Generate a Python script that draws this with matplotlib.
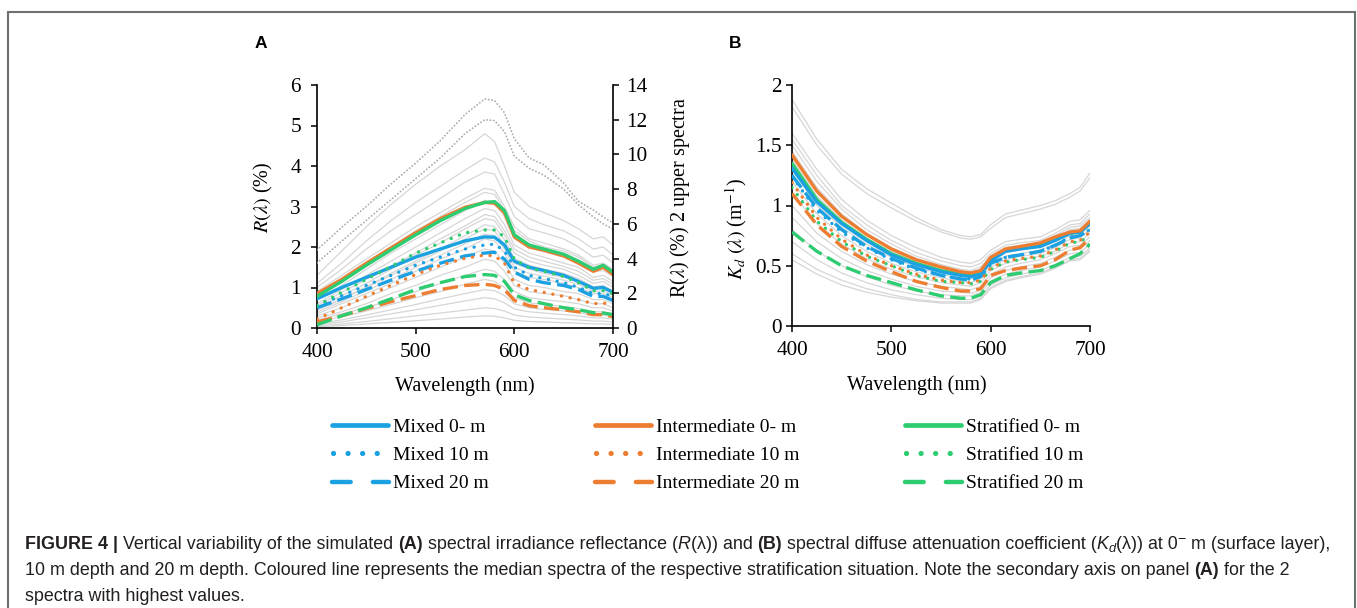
import matplotlib
matplotlib.use('Agg')
import matplotlib.pyplot as plt
from matplotlib.lines import Line2D
from matplotlib.patches import Rectangle

plt.rcParams['mathtext.fontset'] = 'stix'
plt.rcParams['font.family'] = ['Liberation Serif', 'DejaVu Serif']

# ---------------- data ----------------
wavelength = [400, 425, 450, 475, 500, 525, 550, 570, 580, 590, 600, 615, 630, 650, 665, 680, 690, 700]

# Panel A: irradiance reflectance R (%), median spectra
R_mixed_0 = [0.72, 1.0, 1.25, 1.5, 1.75, 1.95, 2.15, 2.25, 2.24, 2.05, 1.65, 1.5, 1.42, 1.3, 1.15, 0.98, 1.0, 0.88]
R_mixed_10 = [0.55, 0.8, 1.05, 1.3, 1.55, 1.75, 1.95, 2.05, 2.07, 1.9, 1.5, 1.3, 1.22, 1.12, 1.0, 0.85, 0.85, 0.78]
R_mixed_20 = [0.5, 0.72, 0.95, 1.18, 1.4, 1.6, 1.78, 1.85, 1.87, 1.7, 1.38, 1.2, 1.12, 1.05, 0.95, 0.78, 0.78, 0.68]
R_inter_0 = [0.85, 1.2, 1.6, 1.98, 2.35, 2.7, 2.98, 3.1, 3.08, 2.85, 2.25, 2.0, 1.92, 1.78, 1.6, 1.4, 1.5, 1.32]
R_inter_10 = [0.22, 0.5, 0.78, 1.05, 1.32, 1.55, 1.72, 1.8, 1.78, 1.6, 1.1, 0.95, 0.88, 0.78, 0.7, 0.6, 0.62, 0.55]
R_inter_20 = [0.15, 0.3, 0.48, 0.65, 0.8, 0.95, 1.05, 1.08, 1.05, 0.95, 0.68, 0.55, 0.5, 0.45, 0.4, 0.33, 0.33, 0.28]
R_strat_0 = [0.78, 1.15, 1.55, 1.93, 2.3, 2.65, 2.95, 3.1, 3.12, 2.9, 2.3, 2.05, 1.95, 1.82, 1.65, 1.45, 1.55, 1.38]
R_strat_10 = [0.55, 0.88, 1.2, 1.52, 1.85, 2.1, 2.35, 2.42, 2.42, 2.25, 1.7, 1.48, 1.4, 1.27, 1.12, 0.92, 0.92, 0.85]
R_strat_20 = [0.08, 0.3, 0.5, 0.72, 0.95, 1.12, 1.27, 1.32, 1.3, 1.15, 0.82, 0.68, 0.6, 0.5, 0.45, 0.38, 0.37, 0.33]

# Panel A: 2 upper spectra (secondary axis, %)
R_upper_1 = [4.5, 5.8, 7.0, 8.3, 9.5, 10.8, 12.3, 13.2, 13.1, 12.4, 10.9, 9.8, 9.4, 8.35, 7.3, 6.8, 6.4, 6.05]
R_upper_2 = [3.75, 5.0, 6.2, 7.4, 8.6, 9.8, 11.2, 12.0, 11.95, 11.3, 9.9, 9.2, 8.8, 8.0, 7.1, 6.4, 6.0, 5.7]

# Panel A: all other simulated spectra (grey)
R_grey = [
    [1.3, 1.9, 2.5, 3.05, 3.55, 4.0, 4.4, 4.8, 4.6, 4.0, 3.35, 3.0, 2.85, 2.65, 2.45, 2.2, 2.25, 2.05],
    [1.1, 1.6, 2.15, 2.65, 3.1, 3.5, 3.9, 4.2, 4.1, 3.6, 3.0, 2.7, 2.55, 2.4, 2.2, 1.95, 2.0, 1.8],
    [1.0, 1.45, 1.95, 2.4, 2.8, 3.2, 3.6, 3.85, 3.8, 3.3, 2.75, 2.45, 2.35, 2.2, 2.0, 1.75, 1.8, 1.6],
    [0.9, 1.3, 1.7, 2.1, 2.5, 2.85, 3.2, 3.45, 3.4, 3.0, 2.5, 2.2, 2.1, 1.95, 1.8, 1.55, 1.6, 1.45],
    [0.8, 1.2, 1.6, 2.0, 2.4, 2.75, 3.1, 3.35, 3.3, 2.9, 2.4, 2.15, 2.0, 1.9, 1.75, 1.5, 1.55, 1.4],
    [0.7, 1.05, 1.45, 1.85, 2.2, 2.55, 2.9, 3.15, 3.1, 2.75, 2.2, 1.98, 1.88, 1.75, 1.6, 1.38, 1.42, 1.28],
    [0.6, 0.95, 1.3, 1.65, 2.0, 2.35, 2.7, 2.95, 2.9, 2.55, 2.05, 1.85, 1.75, 1.6, 1.5, 1.25, 1.3, 1.15],
    [0.55, 0.88, 1.2, 1.52, 1.85, 2.2, 2.52, 2.8, 2.75, 2.4, 1.95, 1.75, 1.65, 1.52, 1.4, 1.18, 1.22, 1.08],
    [0.5, 0.8, 1.1, 1.45, 1.8, 2.1, 2.45, 2.7, 2.65, 2.3, 1.85, 1.65, 1.55, 1.45, 1.3, 1.1, 1.15, 1.0],
    [0.45, 0.72, 1.02, 1.35, 1.65, 1.95, 2.28, 2.55, 2.5, 2.18, 1.72, 1.55, 1.45, 1.35, 1.22, 1.02, 1.05, 0.92],
    [0.45, 0.7, 1.0, 1.3, 1.6, 1.9, 2.2, 2.45, 2.4, 2.05, 1.6, 1.45, 1.35, 1.25, 1.15, 0.95, 1.0, 0.85],
    [0.4, 0.65, 0.92, 1.2, 1.5, 1.8, 2.08, 2.32, 2.28, 1.95, 1.5, 1.35, 1.28, 1.18, 1.08, 0.9, 0.92, 0.8],
    [0.35, 0.6, 0.85, 1.1, 1.4, 1.7, 1.95, 2.2, 2.15, 1.85, 1.4, 1.25, 1.2, 1.1, 1.0, 0.85, 0.85, 0.75],
    [0.3, 0.5, 0.75, 1.0, 1.25, 1.5, 1.75, 1.95, 1.9, 1.6, 1.2, 1.05, 1.0, 0.9, 0.85, 0.7, 0.7, 0.6],
    [0.25, 0.4, 0.6, 0.85, 1.05, 1.3, 1.5, 1.7, 1.65, 1.4, 1.05, 0.9, 0.85, 0.8, 0.7, 0.6, 0.6, 0.5],
    [0.2, 0.35, 0.5, 0.7, 0.9, 1.1, 1.3, 1.45, 1.4, 1.2, 0.9, 0.75, 0.7, 0.65, 0.6, 0.5, 0.5, 0.42],
    [0.15, 0.28, 0.42, 0.58, 0.75, 0.9, 1.08, 1.2, 1.15, 1.0, 0.75, 0.62, 0.58, 0.53, 0.48, 0.4, 0.4, 0.35],
    [0.1, 0.2, 0.32, 0.45, 0.58, 0.72, 0.85, 0.95, 0.92, 0.8, 0.6, 0.5, 0.46, 0.42, 0.38, 0.32, 0.32, 0.28],
    [0.08, 0.15, 0.25, 0.35, 0.45, 0.56, 0.67, 0.75, 0.72, 0.62, 0.47, 0.4, 0.37, 0.33, 0.3, 0.25, 0.25, 0.22],
    [0.05, 0.1, 0.16, 0.23, 0.3, 0.37, 0.44, 0.5, 0.48, 0.42, 0.32, 0.27, 0.25, 0.22, 0.2, 0.17, 0.17, 0.15],
    [0.03, 0.06, 0.1, 0.14, 0.18, 0.22, 0.27, 0.3, 0.29, 0.25, 0.19, 0.16, 0.15, 0.13, 0.12, 0.1, 0.1, 0.09],
]

# Panel B: diffuse attenuation Kd (m-1), median spectra
K_mixed_0 = [1.31, 1.03, 0.85, 0.71, 0.59, 0.51, 0.45, 0.42, 0.41, 0.43, 0.54, 0.62, 0.64, 0.66, 0.71, 0.77, 0.78, 0.85]
K_mixed_10 = [1.24, 0.96, 0.78, 0.65, 0.55, 0.47, 0.42, 0.39, 0.39, 0.41, 0.51, 0.57, 0.59, 0.62, 0.67, 0.74, 0.75, 0.8]
K_mixed_20 = [1.25, 0.98, 0.8, 0.66, 0.56, 0.48, 0.42, 0.39, 0.38, 0.41, 0.52, 0.57, 0.59, 0.62, 0.67, 0.73, 0.75, 0.8]
K_inter_0 = [1.42, 1.12, 0.91, 0.76, 0.64, 0.55, 0.49, 0.45, 0.44, 0.46, 0.57, 0.64, 0.66, 0.69, 0.74, 0.78, 0.79, 0.87]
K_inter_10 = [1.19, 0.9, 0.72, 0.59, 0.5, 0.43, 0.38, 0.36, 0.36, 0.38, 0.48, 0.54, 0.56, 0.58, 0.63, 0.7, 0.71, 0.78]
K_inter_20 = [1.1, 0.84, 0.66, 0.54, 0.45, 0.37, 0.32, 0.29, 0.29, 0.31, 0.42, 0.46, 0.48, 0.5, 0.55, 0.63, 0.65, 0.73]
K_strat_0 = [1.35, 1.05, 0.86, 0.72, 0.6, 0.52, 0.46, 0.43, 0.42, 0.44, 0.55, 0.63, 0.65, 0.67, 0.72, 0.77, 0.78, 0.86]
K_strat_10 = [1.15, 0.87, 0.7, 0.58, 0.5, 0.42, 0.37, 0.36, 0.35, 0.37, 0.47, 0.53, 0.55, 0.57, 0.62, 0.69, 0.7, 0.75]
K_strat_20 = [0.78, 0.62, 0.5, 0.42, 0.36, 0.3, 0.25, 0.23, 0.23, 0.26, 0.36, 0.42, 0.44, 0.46, 0.5, 0.56, 0.6, 0.68]

K_grey = [
    [1.88, 1.55, 1.3, 1.14, 1.02, 0.9, 0.8, 0.75, 0.74, 0.76, 0.84, 0.93, 0.96, 1.0, 1.04, 1.1, 1.15, 1.27],
    [1.82, 1.5, 1.26, 1.1, 0.98, 0.87, 0.78, 0.73, 0.72, 0.74, 0.81, 0.9, 0.93, 0.97, 1.01, 1.07, 1.12, 1.23],
    [1.6, 1.3, 1.05, 0.88, 0.75, 0.65, 0.57, 0.53, 0.52, 0.55, 0.63, 0.7, 0.72, 0.74, 0.8, 0.87, 0.88, 0.96],
    [1.55, 1.25, 1.0, 0.84, 0.71, 0.61, 0.54, 0.5, 0.49, 0.52, 0.6, 0.67, 0.69, 0.71, 0.77, 0.84, 0.85, 0.93],
    [1.5, 1.2, 0.97, 0.8, 0.68, 0.58, 0.51, 0.47, 0.46, 0.49, 0.58, 0.65, 0.67, 0.69, 0.75, 0.82, 0.83, 0.9],
    [1.45, 1.15, 0.93, 0.77, 0.65, 0.56, 0.49, 0.45, 0.44, 0.47, 0.56, 0.63, 0.65, 0.68, 0.73, 0.8, 0.81, 0.88],
    [1.38, 1.08, 0.88, 0.73, 0.62, 0.53, 0.47, 0.43, 0.42, 0.45, 0.54, 0.61, 0.63, 0.66, 0.71, 0.78, 0.79, 0.86],
    [1.3, 1.0, 0.82, 0.68, 0.57, 0.49, 0.43, 0.4, 0.39, 0.42, 0.51, 0.58, 0.6, 0.63, 0.68, 0.75, 0.76, 0.83],
    [1.2, 0.93, 0.75, 0.62, 0.52, 0.45, 0.4, 0.37, 0.36, 0.39, 0.49, 0.55, 0.58, 0.6, 0.65, 0.72, 0.73, 0.8],
    [1.1, 0.85, 0.68, 0.56, 0.47, 0.41, 0.36, 0.34, 0.33, 0.36, 0.46, 0.52, 0.55, 0.58, 0.62, 0.69, 0.7, 0.77],
    [1.0, 0.77, 0.62, 0.51, 0.43, 0.37, 0.33, 0.31, 0.3, 0.33, 0.43, 0.49, 0.52, 0.55, 0.6, 0.66, 0.67, 0.74],
    [0.9, 0.7, 0.56, 0.46, 0.39, 0.33, 0.29, 0.28, 0.27, 0.3, 0.4, 0.46, 0.49, 0.52, 0.57, 0.63, 0.64, 0.71],
    [0.8, 0.62, 0.5, 0.41, 0.34, 0.29, 0.26, 0.25, 0.25, 0.28, 0.37, 0.43, 0.46, 0.49, 0.54, 0.6, 0.61, 0.68],
    [0.7, 0.55, 0.44, 0.36, 0.3, 0.26, 0.23, 0.22, 0.22, 0.25, 0.34, 0.4, 0.43, 0.46, 0.51, 0.57, 0.58, 0.65],
    [0.6, 0.47, 0.38, 0.31, 0.26, 0.22, 0.2, 0.2, 0.2, 0.23, 0.32, 0.38, 0.41, 0.44, 0.49, 0.55, 0.56, 0.63],
    [0.55, 0.43, 0.34, 0.28, 0.24, 0.21, 0.19, 0.19, 0.19, 0.22, 0.31, 0.37, 0.4, 0.43, 0.48, 0.54, 0.55, 0.62],
]

groups = ['Mixed', 'Intermediate', 'Stratified']
depth_labels = ['0- m', '10 m', '20 m']
group_colors = ['#1BA1E2', '#ED7D31', '#2ECC71']

R_series = [[R_mixed_0, R_mixed_10, R_mixed_20],
            [R_inter_0, R_inter_10, R_inter_20],
            [R_strat_0, R_strat_10, R_strat_20]]
K_series = [[K_mixed_0, K_mixed_10, K_mixed_20],
            [K_inter_0, K_inter_10, K_inter_20],
            [K_strat_0, K_strat_10, K_strat_20]]

x_ticks = [400, 500, 600, 700]
R_ticks = [0, 1, 2, 3, 4, 5, 6]
R2_ticks = [0, 2, 4, 6, 8, 10, 12, 14]
K_ticks = [0, 0.5, 1, 1.5, 2]
K_tick_labels = ['0', '0.5', '1', '1.5', '2']

caption_lines = [
    [("FIGURE 4 |", 'b'), (" Vertical variability of the simulated ", 'n'), ("(A)", 'b'),
     (" spectral irradiance reflectance (", 'n'), ("R", 'i'), ("(λ)) and ", 'n'), ("(B)", 'b'),
     (" spectral diffuse attenuation coefficient (", 'n'), ("K", 'i'), ("d", 'sub'),
     ("(λ)) at 0", 'n'), ("−", 'sup'), (" m (surface layer),", 'n')],
    [("10 m depth and 20 m depth. Coloured line represents the median spectra of the respective "
      "stratification situation. Note the secondary axis on panel ", 'n'), ("(A)", 'b'), (" for the 2", 'n')],
    [("spectra with highest values.", 'n')],
]

# ---------------- layout helpers ----------------
W_PX, H_PX = 1357, 608
fig = plt.figure(figsize=(W_PX / 100, H_PX / 100), dpi=100)


def fx(px):
    return px / W_PX


def fy(py):
    return 1 - py / H_PX


def rect(l, t, r, b):
    return [fx(l), fy(b), (r - l) / W_PX, (b - t) / H_PX]


TICK_FS = 15.3
LABEL_FS = 14.5
lw_med = 2.4
styles = ['-', (0, (0.05, 2.6)), (0, (4.6, 1.9))]
caps = ['round', 'round', 'butt']


def style_axis(ax, ypad):
    ax.tick_params(axis='both', direction='out', length=4.5, width=1.1, labelsize=TICK_FS, colors='black')
    ax.tick_params(axis='y', pad=ypad)
    ax.tick_params(axis='x', pad=6)
    for s in ['left', 'bottom']:
        ax.spines[s].set_linewidth(1.2)
    ax.spines['top'].set_visible(False)


# ---------------- Panel A ----------------
axA = fig.add_axes(rect(317, 85, 613, 328))
for g in R_grey:
    axA.plot(wavelength, g, color='#d6d6d6', lw=0.9, zorder=1)
for gi in range(3):
    for di in range(3):
        axA.plot(wavelength, R_series[gi][di], color=group_colors[gi], lw=lw_med,
                 linestyle=styles[di], dash_capstyle=caps[di], solid_capstyle='round', zorder=3)
axA.set_xlim(400, 700)
axA.set_ylim(0, 6)
axA.set_xticks(x_ticks)
axA.set_yticks(R_ticks)
style_axis(axA, 7)
axA.spines['right'].set_visible(False)
axA.set_xlabel('Wavelength (nm)', fontsize=LABEL_FS)
axA.xaxis.set_label_coords(0.5, (328 - 386) / 243)
axA.xaxis.label.set_verticalalignment('center')
axA.set_ylabel(r'$R(\lambda)$ (%)', fontsize=LABEL_FS)
axA.yaxis.set_label_coords((263 - 317) / 296, (328 - 197) / 243)
axA.yaxis.label.set_verticalalignment('center')

axA2 = axA.twinx()
for u in [R_upper_1, R_upper_2]:
    axA2.plot(wavelength, u, color='#ababab', lw=1.3, linestyle=(0, (0.1, 1.8)), dash_capstyle='round')
axA2.set_ylim(0, 14)
axA2.set_yticks(R2_ticks)
axA2.tick_params(axis='y', direction='out', length=4.5, width=1.1, labelsize=TICK_FS, pad=5)
axA2.spines['right'].set_linewidth(1.2)
for s in ['top', 'left', 'bottom']:
    axA2.spines[s].set_visible(False)
axA2.set_ylabel(r'R($\lambda$) (%) 2 upper spectra', fontsize=LABEL_FS)
axA2.yaxis.set_label_coords((680 - 317) / 296, (328 - 198) / 243)
axA2.yaxis.label.set_verticalalignment('center')

# ---------------- Panel B ----------------
axB = fig.add_axes(rect(792, 85, 1090, 326))
for g in K_grey:
    axB.plot(wavelength, g, color='#d6d6d6', lw=0.9, zorder=1)
order_B = [2, 0, 1]
for gi in order_B:
    for di in [2, 1, 0]:
        axB.plot(wavelength, K_series[gi][di], color=group_colors[gi], lw=lw_med,
                 linestyle=styles[di], dash_capstyle=caps[di], solid_capstyle='round', zorder=3)
axB.set_xlim(400, 700)
axB.set_ylim(0, 2)
axB.set_xticks(x_ticks)
axB.set_yticks(K_ticks)
axB.set_yticklabels(K_tick_labels)
style_axis(axB, 3)
axB.spines['right'].set_visible(False)
axB.set_xlabel('Wavelength (nm)', fontsize=LABEL_FS)
axB.xaxis.set_label_coords((917 - 792) / 298, (326 - 385) / 241)
axB.xaxis.label.set_verticalalignment('center')
axB.set_ylabel(r'$K_d\ (\lambda)$ (m$^{-1}$)', fontsize=LABEL_FS)
axB.yaxis.set_label_coords((736 - 792) / 298, (326 - 229) / 241)
axB.yaxis.label.set_verticalalignment('center')

# panel letters
fig.text(fx(261), fy(44), 'A', fontsize=12.5, fontweight='bold', family='Liberation Sans', ha='center', va='center')
fig.text(fx(735), fy(44), 'B', fontsize=12.5, fontweight='bold', family='Liberation Sans', ha='center', va='center')

# ---------------- legend (drawn manually, Excel-like) ----------------
leg_x = [330, 593, 903]
leg_y = [425, 453, 482]
for gi in range(3):
    x0 = leg_x[gi]
    c = group_colors[gi]
    # solid
    fig.add_artist(Line2D([fx(x0 + 2), fx(x0 + 58)], [fy(leg_y[0])] * 2, transform=fig.transFigure,
                          color=c, lw=3.4, solid_capstyle='round'))
    # dotted
    fig.add_artist(Line2D([fx(x0 + 3), fx(x0 + 49)], [fy(leg_y[1])] * 2, transform=fig.transFigure,
                          color=c, lw=3.8, linestyle=(0, (0.01, 2.75)), dash_capstyle='round'))
    # dashed
    fig.add_artist(Line2D([fx(x0 + 2), fx(x0 + 59)], [fy(leg_y[2])] * 2, transform=fig.transFigure,
                          color=c, lw=3.2, linestyle=(0, (4.2, 5.0)), dash_capstyle='round'))
    for di in range(3):
        fig.text(fx(x0 + 63), fy(leg_y[di]), f'{groups[gi]} {depth_labels[di]}', fontsize=14,
                 ha='left', va='center_baseline')

# ---------------- frame ----------------
fig.add_artist(Rectangle((fx(8), fy(700)), (1355 - 8) / W_PX, (700 - 12) / H_PX, transform=fig.transFigure,
                         fill=False, edgecolor='#707070', lw=1.5))

# ---------------- caption ----------------
renderer = fig.canvas.get_renderer()
CAP_FS = 12.85
cap_family = ['Liberation Sans', 'DejaVu Sans']
cap_color = '#231f20'


def text_w(s, **kw):
    t = fig.text(0, 0, s, fontsize=CAP_FS, family=cap_family, **kw)
    w = t.get_window_extent(renderer).width
    t.remove()
    return w


space_w = text_w('x x') - text_w('xx')

line_base = [549, 575, 601]
for li, pieces in enumerate(caption_lines):
    x = 25.0
    for txt, st in pieces:
        kw = dict(fontsize=CAP_FS, family=cap_family, color=cap_color)
        dy = 0
        if st == 'b':
            kw['fontweight'] = 'bold'
        elif st == 'i':
            kw['fontstyle'] = 'italic'
        elif st == 'sub':
            kw['fontstyle'] = 'italic'
            kw['fontsize'] = CAP_FS * 0.72
            dy = 3
        elif st == 'sup':
            kw['fontsize'] = CAP_FS * 0.8
            dy = -6
        n_lead = len(txt) - len(txt.lstrip(' '))
        n_trail = len(txt) - len(txt.rstrip(' '))
        core = txt.strip(' ')
        x += n_lead * space_w
        t = fig.text(fx(x), fy(line_base[li] + dy), core, ha='left', va='baseline', **kw)
        x = t.get_window_extent(renderer).x1 + n_trail * space_w

fig.savefig('out.png', dpi=100)
